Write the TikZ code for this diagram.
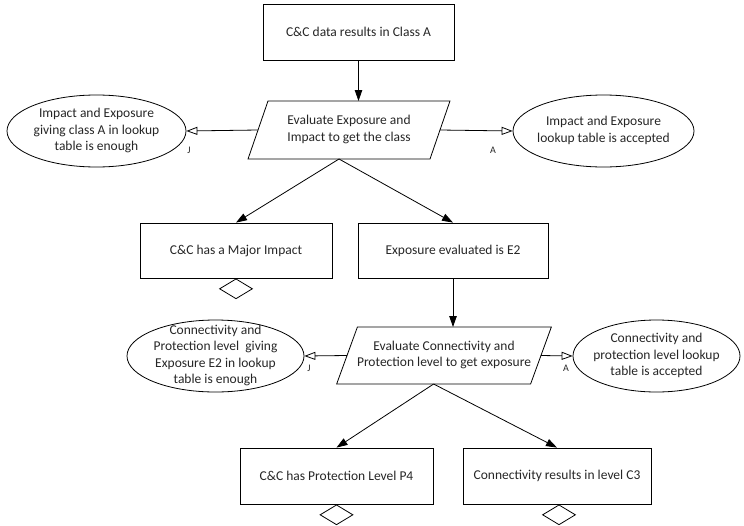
\documentclass[tikz,border=0pt]{standalone}
\usepackage{fontspec}
\setmainfont{Carlito}
\usetikzlibrary{shapes.geometric,arrows.meta,calc}

% centred multi-line text that does not enlarge its shape
\newcommand\shapetext[1]{\smash{\makebox[0pt]{\raisebox{-0.25em}{\begin{tabular}{@{}c@{}}#1\end{tabular}}}}}

\begin{document}
\begin{tikzpicture}[x=1pt,y=-1pt,
  every node/.style={font=\fontsize{13.5}{16.5}\selectfont, text=black!85},
  stepbox/.style={draw=black, line width=0.8pt, rectangle, minimum height=56pt, inner sep=0pt},
  evalbox/.style={draw=black, line width=0.8pt, trapezium, outer sep=0pt,
    trapezium left angle=71, trapezium right angle=109, inner ysep=29pt, inner xsep=81pt},
  outcome/.style={draw=black, line width=0.8pt, ellipse, inner sep=0pt, minimum height=72pt},
  gate/.style={draw=black, line width=0.8pt, diamond, minimum width=33pt, minimum height=20pt,
    inner sep=0pt, anchor=north},
  flow/.style={draw=black, line width=0.8pt, -{Triangle[length=11pt,width=7.5pt]}},
  branch/.style={draw=black, line width=0.8pt, -{Triangle[open,length=11pt,width=8pt]}},
  tag/.style={font=\fontsize{10}{12}\selectfont, inner sep=0pt}
]
\useasboundingbox (0,0) rectangle (744,525);

% first stage
\node[stepbox, minimum width=191pt] (top) at (358.5,32) {C\&C data results in Class A};
\node[evalbox] (eval1) at (349,130)
  {\shapetext{Evaluate Exposure and\\Impact to get the class}};
\node[outcome, minimum width=179pt] (enough1) at (96.5,131)
  {\shapetext{Impact and Exposure\\giving class A in lookup\\table is enough}};
\node[outcome, minimum width=181pt] (accept1) at (603.5,131)
  {\shapetext{Impact and Exposure\\lookup table is accepted}};
\node[stepbox, minimum width=192pt, minimum height=55pt] (impact) at (236,250.5) {C\&C has a Major Impact};
\node[stepbox, minimum width=190pt, minimum height=55pt] (expo) at (453,250.5) {Exposure evaluated is E2};
\node[gate] (g1) at (impact.south) {};

% second stage
\node[evalbox, inner ysep=28.5pt, inner xsep=86.6pt, trapezium left angle=70,
  trapezium right angle=110] (eval2) at (444,355.5)
  {\shapetext{Evaluate Connectivity and\\Protection level to get exposure}};
\node[outcome, minimum width=177pt] (enough2) at (215.5,356)
  {\shapetext{Connectivity and\\Protection level\ \ giving\\Exposure E2 in lookup\\table is enough}};
\node[outcome, minimum width=167pt] (accept2) at (656.5,356)
  {\shapetext{Connectivity and\\protection level lookup\\table is accepted}};
\node[stepbox, minimum width=193pt] (prot) at (336.5,476) {C\&C has Protection Level P4};
\node[stepbox, minimum width=188pt] (conn) at (557,476) {Connectivity results in level C3};
\node[gate] (g2) at (prot.south) {};
\node[gate] (g3) at ([xshift=2pt]conn.south) {};

% connectors
\draw[flow] (top.south) -- (top.south |- eval1.top side);
\draw[flow] (eval1.bottom side) -- (impact.north);
\draw[flow] (eval1.bottom side) -- (expo.north);
\draw[branch] ($(eval1.top left corner)!0.5!(eval1.bottom left corner)$) -- (enough1.east);
\draw[branch] ($(eval1.top right corner)!0.5!(eval1.bottom right corner)$) -- (accept1.west);
\draw[flow] (expo.south) -- (expo.south |- eval2.top side);
\draw[flow] (eval2.bottom side) -- (prot.north);
\draw[flow] (eval2.bottom side) -- (conn.north);
\draw[branch] ($(eval2.top left corner)!0.5!(eval2.bottom left corner)$) -- (enough2.east);
\draw[branch] ($(eval2.top right corner)!0.5!(eval2.bottom right corner)$) -- (accept2.west);

% branch tags
\node[tag] (j1) at (189,150) {J};
\node[tag] (a1) at (493,150) {A};
\node[tag] (j2) at (309,368) {J};
\node[tag] (a2) at (566,368) {A};
\end{tikzpicture}
\end{document}
